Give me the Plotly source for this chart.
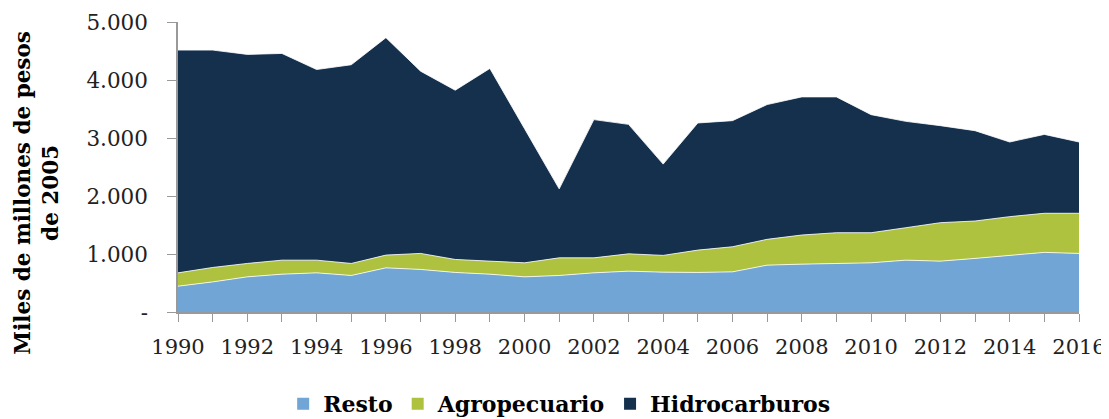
import plotly.graph_objects as go

years = list(range(1990, 2017))
resto = [445, 519, 606, 652, 675, 630, 761, 734, 682, 652, 606, 630, 675, 704, 687,
         682, 692, 808, 825, 837, 848, 894, 877, 924, 981, 1028, 1010]
agro = [230, 249, 231, 242, 219, 207, 220, 276, 224, 225, 242, 304, 259, 299, 289,
        385, 433, 445, 502, 530, 519, 559, 663, 645, 663, 674, 692]
hidro = [3841, 3748, 3604, 3564, 3287, 3426, 3749, 3142, 2918, 3322, 2313, 1189, 2383,
         2232, 1574, 2192, 2174, 2323, 2382, 2342, 2036, 1834, 1673, 1557, 1287, 1360, 1229]

names = ["Resto", "Agropecuario", "Hidrocarburos"]
colors = ["#71A5D5", "#AFC23F", "#14304D"]
series = [resto, agro, hidro]

fig = go.Figure()
for n, c, s in zip(names, colors, series):
    fig.add_trace(go.Scatter(
        x=years, y=s, name=n, mode="lines", stackgroup="one",
        line=dict(color="rgba(255,255,255,0.8)", width=1),
        fillcolor=c, showlegend=False, legendgroup=n,
    ))
# legend entries as small squares
for n, c in zip(names, colors):
    fig.add_trace(go.Scatter(
        x=[None], y=[None], name=n, mode="markers", legendgroup=n,
        marker=dict(symbol="square", size=12, color=c),
    ))

font = "DejaVu Serif"
tickvals_x = years
ticktext_x = [str(y) if y % 2 == 0 else "" for y in years]
yvals = [0, 1000, 2000, 3000, 4000, 5000]
ytext = ["-", "1.000", "2.000", "3.000", "4.000", "5.000"]

fig.update_layout(
    width=1109, height=419,
    margin=dict(l=170, r=38, t=14, b=115, autoexpand=False),
    paper_bgcolor="white", plot_bgcolor="white",
    font=dict(family=font, color="#222222", size=21),
    showlegend=True,
    legend=dict(orientation="h", xref="container", x=0.497, xanchor="center",
                y=-0.317, yanchor="middle",
                font=dict(family=font, size=22, color="black", weight="bold"),
                traceorder="normal", itemwidth=30),
    xaxis=dict(range=[1990, 2016], tickvals=tickvals_x, ticktext=ticktext_x,
               showgrid=False, zeroline=False, showline=True, linecolor="#999999",
               linewidth=1.5, ticks="outside", ticklen=8, tickcolor="#999999",
               automargin=False, ticklabelstandoff=7,
               tickfont=dict(size=21, family=font, color="#222222")),
    yaxis=dict(range=[0, 5000], tickvals=yvals, ticktext=ytext,
               showgrid=False, zeroline=False, showline=True, linecolor="#999999",
               linewidth=1.5, ticks="outside", ticklen=9, tickcolor="#999999",
               automargin=False, ticklabelstandoff=15,
               tickfont=dict(size=21.5, family=font, color="#222222")),
    annotations=[dict(
        text="Miles de millones de pesos<br>de 2005", textangle=-90,
        xref="paper", yref="paper", x=-0.157, y=0.41,
        xanchor="center", yanchor="middle", showarrow=False,
        font=dict(size=21.5, family=font, color="black", weight="bold"),
    )],
)

fig.write_html("out.html")
